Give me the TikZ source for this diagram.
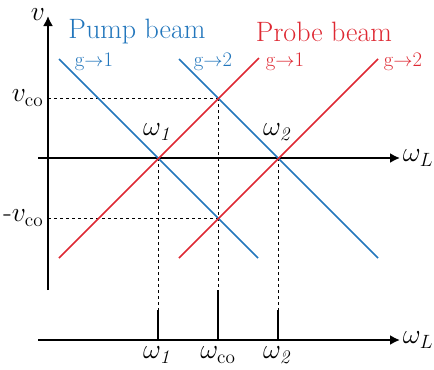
\documentclass[tikz,border=0pt]{standalone}
\usepackage{amsmath}
\usepackage{xcolor}
\usepackage{tikz}
\usetikzlibrary{arrows.meta,positioning,calc}
\definecolor{pumpblue}{RGB}{34,118,188}
\definecolor{probered}{RGB}{222,40,50}

\begin{document}
\begin{tikzpicture}[x=0.75pt, y=-0.75pt, >={Latex[length=7.5pt,width=7.5pt]}, font=\fontsize{21}{23}\selectfont]
\tikzstyle{axis}=[line width=1.4pt]
\tikzstyle{pump}=[line width=1.1pt, draw=pumpblue]
\tikzstyle{probe}=[line width=1.1pt, draw=probered]
\tikzstyle{guide}=[line width=0.6pt, dash pattern=on 2.5pt off 2pt]
\tikzstyle{tick}=[line width=1.4pt]
\tikzstyle{lbl}=[inner sep=1pt]
\tikzstyle{small}=[font=\fontsize{15.5}{17}\selectfont]
\useasboundingbox (0,0) rectangle (434,369);
% axes
\coordinate (vbot) at (48,290);
\coordinate (vtop) at (48,16);
\coordinate (wl0) at (38,158);
\coordinate (wl1) at (400,158);
\coordinate (bl0) at (38,340);
\coordinate (bl1) at (400,340);
\draw[axis, ->] (vbot) -- (vtop);
\draw[axis, ->] (wl0) -- (wl1);
\draw[axis, ->] (bl0) -- (bl1);
\node[lbl] (vlab) at (38,15) {$v$};
\node[lbl, right=1pt of wl1] (wllab) {$\omega_L$};
\node[lbl, right=1pt of bl1] (bllab) {$\omega_L$};
% crossings
\coordinate (w1) at (158,158);
\coordinate (w2) at (278,158);
\coordinate (cup) at (218,98);
\coordinate (cdn) at (218,218);
% dashed guides
\draw[guide] (48,98) coordinate (vco) -- (cup);
\draw[guide] (48,218) coordinate (mvco) -- (cdn);
\draw[guide] (w1) -- (158,310) coordinate (t1);
\draw[guide] (cup) -- (218,290) coordinate (tco);
\draw[guide] (w2) -- (278,310) coordinate (t2);
% ticks on lower axis
\draw[tick] (t1) -- (158,340) coordinate (b1);
\draw[tick] (tco) -- (218,340) coordinate (bco);
\draw[tick] (t2) -- (278,340) coordinate (b2);
\node[lbl, anchor=east] (vcolab) at (45,98) {$v_{\mathrm{co}}$};
\node[lbl, anchor=east] (mvcolab) at (45,218) {-$v_{\mathrm{co}}$};
% beams
\coordinate (pa0) at (59,59);
\coordinate (pa1) at (258,258);
\coordinate (pb0) at (179,59);
\coordinate (pb1) at (378,258);
\coordinate (ra0) at (59,258);
\coordinate (ra1) at (259,58);
\coordinate (rb0) at (179,258);
\coordinate (rb1) at (378,59);
\draw[pump] (pa0) -- (pa1);
\draw[pump] (pb0) -- (pb1);
\draw[probe] (ra0) -- (ra1);
\draw[probe] (rb0) -- (rb1);
\node[lbl, text=pumpblue] (pumplab) at (137,32) {Pump beam};
\node[lbl, text=probered] (probelab) at (324,32) {Probe beam};
\node[lbl, small, text=pumpblue] (pa) at (94,62) {g$\rightarrow$1};
\node[lbl, small, text=pumpblue] (pb) at (213,62) {g$\rightarrow$2};
\node[lbl, small, text=probered] (ra) at (285,62) {g$\rightarrow$1};
\node[lbl, small, text=probered] (rb) at (403,62) {g$\rightarrow$2};
% frequency labels
\node[lbl] (w1top) at (158,132) {$\omega_{\mathit{1}}$};
\node[lbl] (w2top) at (278,132) {$\omega_{\mathit{2}}$};
\node[lbl] (w1bot) at (158,355) {$\omega_{\mathit{1}}$};
\node[lbl] (wcobot) at (218,355) {$\omega_{\mathrm{co}}$};
\node[lbl] (w2bot) at (278,355) {$\omega_{\mathit{2}}$};
\end{tikzpicture}
\end{document}
